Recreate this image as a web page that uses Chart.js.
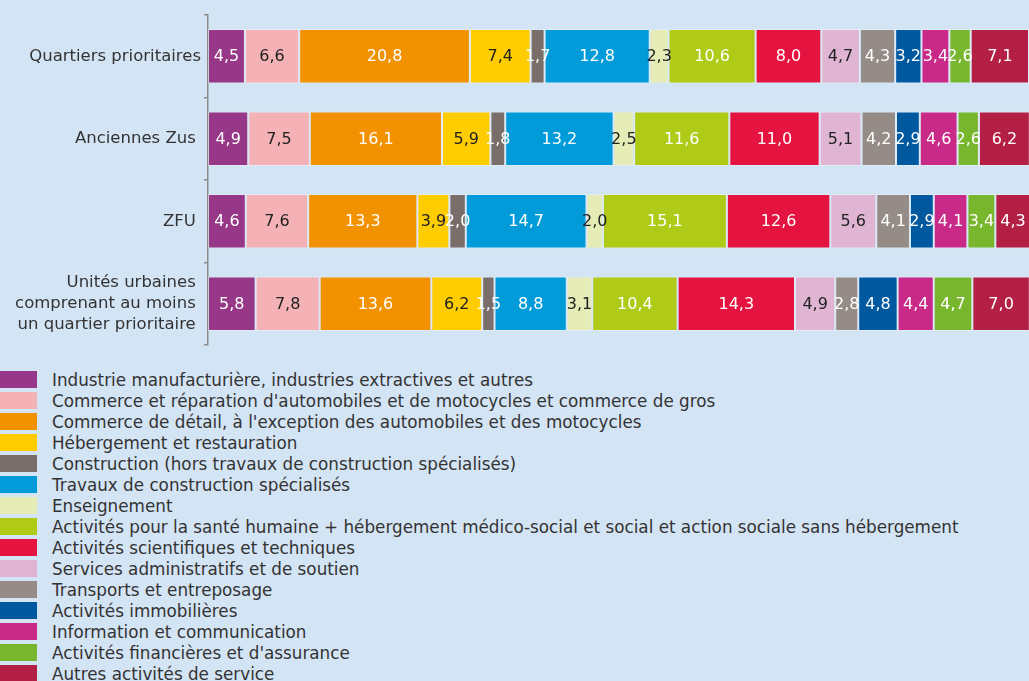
<!DOCTYPE html>
<html lang="fr">
<head>
    <meta charset="UTF-8">
    <title>Répartition des établissements par secteur</title>
    <script src="https://cdn.jsdelivr.net/npm/chart.js@4.4.1/dist/chart.umd.min.js"></script>
    <style>
        body { margin: 0; background: #d3e4f5; font-family: "DejaVu Sans", sans-serif; color: #333; }
        .wrap { position: relative; width: 1029px; height: 681px; overflow: hidden; }
        .chart-box { position: absolute; left: 0; top: 0; width: 1029px; height: 350px; }
        #legend { position: absolute; left: 0; top: 369px; margin: 0; padding: 0; list-style: none; }
        #legend li { height: 21px; display: flex; align-items: center; font-size: 16.8px; white-space: nowrap; }
        #legend span.box { display: inline-block; width: 37px; height: 17px; margin-right: 15px; }
    </style>
</head>
<body>
<div class="wrap">
    <div class="chart-box"><canvas id="myChart"></canvas></div>
    <ul id="legend"></ul>
</div>

<script>
    // zones
    var categories = [
        'Quartiers prioritaires',
        'Anciennes Zus ',
        'ZFU ',
        ['Unités urbaines ', 'comprenant au moins ', 'un quartier prioritaire ']
    ];

    var sectors = [
        "Industrie manufacturière, industries extractives et autres",
        "Commerce et réparation d'automobiles et de motocycles et commerce de gros",
        "Commerce de détail, à l'exception des automobiles et des motocycles",
        "Hébergement et restauration",
        "Construction (hors travaux de construction spécialisés)",
        "Travaux de construction spécialisés",
        "Enseignement",
        "Activités pour la santé humaine + hébergement médico-social et social et action sociale sans hébergement",
        "Activités scientifiques et techniques",
        "Services administratifs et de soutien",
        "Transports et entreposage",
        "Activités immobilières",
        "Information et communication",
        "Activités financières et d'assurance",
        "Autres activités de service"
    ];

    var colors = [
        '#963787', '#f5b2b6', '#f39200', '#ffcc00', '#7a6e6a',
        '#009bd8', '#e6ecb5', '#afca17', '#e4133f', '#e0b5d3',
        '#968c87', '#00589f', '#c92a87', '#78b72d', '#b41f45'
    ];

    // text colour of the value labels (dark on the pale segments)
    var labelColors = [
        '#fff', '#222', '#fff', '#222', '#fff',
        '#fff', '#222', '#fff', '#fff', '#222',
        '#fff', '#fff', '#fff', '#fff', '#fff'
    ];

    // one array per sector, in the order of the zones
    var industrie      = [4.5, 4.9, 4.6, 5.8];
    var commerceGros   = [6.6, 7.5, 7.6, 7.8];
    var commerceDetail = [20.8, 16.1, 13.3, 13.6];
    var hebergement    = [7.4, 5.9, 3.9, 6.2];
    var construction   = [1.7, 1.8, 2.0, 1.5];
    var travaux        = [12.8, 13.2, 14.7, 8.8];
    var enseignement   = [2.3, 2.5, 2.0, 3.1];
    var sante          = [10.6, 11.6, 15.1, 10.4];
    var scientifiques  = [8.0, 11.0, 12.6, 14.3];
    var services       = [4.7, 5.1, 5.6, 4.9];
    var transports     = [4.3, 4.2, 4.1, 2.8];
    var immobilieres   = [3.2, 2.9, 2.9, 4.8];
    var information    = [3.4, 4.6, 4.1, 4.4];
    var financieres    = [2.6, 2.6, 3.4, 4.7];
    var autres         = [7.1, 6.2, 4.3, 7.0];

    var values = [industrie, commerceGros, commerceDetail, hebergement, construction,
                  travaux, enseignement, sante, scientifiques, services,
                  transports, immobilieres, information, financieres, autres];

    var datasets = sectors.map(function (name, i) {
        return {
            label: name,
            data: values[i],
            backgroundColor: colors[i],
            borderColor: 'rgba(255,255,255,0.3)',
            borderWidth: 1,
            borderSkipped: false,
            barPercentage: 0.66,
            categoryPercentage: 1.0
        };
    });

    // writes the value in the middle of each segment
    var valueLabels = {
        id: 'valueLabels',
        afterDatasetsDraw: function (chart) {
            var ctx = chart.ctx;
            ctx.save();
            ctx.font = '16px "DejaVu Sans"';
            ctx.textAlign = 'center';
            ctx.textBaseline = 'middle';
            chart.data.datasets.forEach(function (ds, i) {
                var meta = chart.getDatasetMeta(i);
                ctx.fillStyle = labelColors[i];
                meta.data.forEach(function (bar, j) {
                    var txt = ds.data[j].toFixed(1).replace('.', ',');
                    ctx.fillText(txt, (bar.x + bar.base) / 2, bar.y + 1);
                });
            });
            ctx.restore();
        }
    };

    Chart.defaults.font.family = '"DejaVu Sans", sans-serif';
    Chart.defaults.font.size = 16;
    Chart.defaults.color = '#333';

    var ctx = document.getElementById('myChart').getContext('2d');
    var myChart = new Chart(ctx, {
        type: 'bar',
        data: { labels: categories, datasets: datasets },
        options: {
            indexAxis: 'y',
            responsive: true,
            maintainAspectRatio: false,
            animation: false,
            layout: { padding: { top: 15, bottom: 5, right: 0, left: 0 } },
            plugins: {
                legend: { display: false },
                tooltip: { enabled: false }
            },
            scales: {
                x: {
                    stacked: true,
                    display: false,
                    min: 0,
                    max: 100
                },
                y: {
                    stacked: true,
                    afterFit: function (scale) {
                        scale.width = 208;
                        // no extra room for the multi-line label
                        scale.paddingTop = 0;
                        scale.paddingBottom = 0;
                    },
                    grid: {
                        drawOnChartArea: false,
                        drawTicks: true,
                        tickLength: 4,
                        color: '#8c8c8c',
                        lineWidth: 1.5
                    },
                    border: { display: true, color: '#8c8c8c', width: 1.5 },
                    ticks: { padding: 3, color: '#333', font: { size: 16.5, lineHeight: 1.3 } }
                }
            }
        },
        plugins: [valueLabels]
    });

    // legend, one sector per line
    var legend = document.getElementById('legend');
    sectors.forEach(function (name, i) {
        var li = document.createElement('li');
        li.innerHTML = '<span class="box" style="background:' + colors[i] + '"></span>' + name;
        legend.appendChild(li);
    });
</script>
</body>
</html>
